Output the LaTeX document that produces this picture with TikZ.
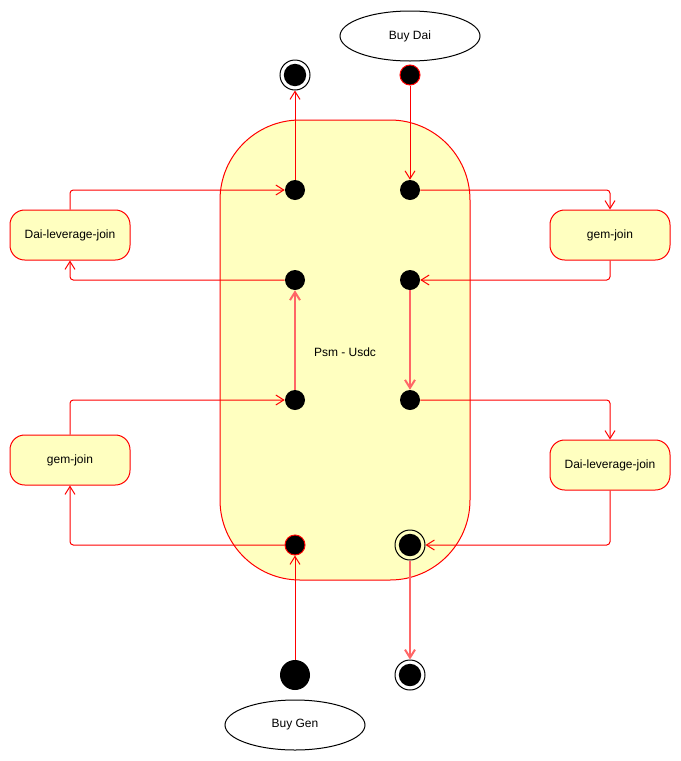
\documentclass[tikz,border=0pt]{standalone}
\usepackage{fontspec}
\setmainfont{Liberation Sans}
\usetikzlibrary{arrows.meta,shapes.geometric}
\definecolor{psmfill}{HTML}{FFFFC0}
\tikzset{
  dot/.style={circle, fill=black, minimum size=15pt, inner sep=0pt},
  reddot/.style={dot, draw=red, line width=0.75pt},
  bigdot/.style={dot, minimum size=22.5pt},
  finalstate/.style={circle, draw=black, line width=0.75pt, minimum size=22.5pt, inner sep=0pt,
    path picture={\fill (path picture bounding box.center) circle (8.4pt);}},
  joinbox/.style={rectangle, rounded corners=11pt, draw=red, fill=psmfill, line width=0.75pt,
    minimum width=90pt, minimum height=37.5pt, font=\fontsize{9}{11}\selectfont},
  usecase/.style={ellipse, draw=black, line width=0.75pt, minimum width=105pt, minimum height=37.5pt,
    inner sep=0pt, font=\fontsize{9}{11}\selectfont},
  flow/.style={draw=red, line width=0.75pt, rounded corners=2.5pt, -{Straight Barb[length=6pt,width=7.5pt]}},
  paleflow/.style={flow, draw=red!60, line width=1.5pt}
}
\begin{document}
\begin{tikzpicture}[x=0.75pt,y=0.75pt,yscale=-1]
\useasboundingbox (0,0) rectangle (681,761);

%Container
\node [draw=red, fill=psmfill, line width=0.75pt, rounded corners=60pt, minimum width=187.5pt, minimum height=345pt, inner sep=0pt] (psm) at (345,350) {};
\node [font=\fontsize{9}{11}\selectfont] (psmLabel) at (345,352) {Psm - Usdc};

%Use cases
\node [usecase] (buyDai) at (410,36) {Buy Dai};
\node [usecase] (buyGen) at (295,725) {Buy Gen};

%Join boxes
\node [joinbox] (daiLevL) at (70,235) {Dai-leverage-join};
\node [joinbox] (gemJoinL) at (70,460) {gem-join};
\node [joinbox] (gemJoinR) at (610,235) {gem-join};
\node [joinbox] (daiLevR) at (610,465) {Dai-leverage-join};

%States
\node [finalstate] (endTop) at (295,75) {};
\node [reddot] (startDai) at (410,75) {};
\node [dot] (l1) at (295,190) {};
\node [dot] (r1) at (410,190) {};
\node [dot] (l2) at (295,280) {};
\node [dot] (r2) at (410,280) {};
\node [dot] (l3) at (295,400) {};
\node [dot] (r3) at (410,400) {};
\node [reddot] (l4) at (295,545) {};
\node [finalstate] (r4) at (410,545) {};
\node [bigdot] (startGen) at (295,675) {};
\node [finalstate] (endBottom) at (410,675) {};

%Left column
\draw [flow] (l1) -- (endTop);
\draw [flow] (daiLevL.north) |- (l1);
\draw [flow] (l2) -| (daiLevL.south);
\draw [paleflow] (l3) -- (l2);
\draw [flow] (gemJoinL.north) |- (l3);
\draw [flow] (l4) -| (gemJoinL.south);
\draw [flow] (startGen) -- (l4);

%Right column
\draw [flow] (startDai) -- (r1);
\draw [flow] (r1) -| (gemJoinR.north);
\draw [flow] (gemJoinR.south) |- (r2);
\draw [paleflow] (r2) -- (r3);
\draw [flow] (r3) -| (daiLevR.north);
\draw [flow] (daiLevR.south) |- (r4);
\draw [paleflow] (r4) -- (endBottom);

\end{tikzpicture}
\end{document}
